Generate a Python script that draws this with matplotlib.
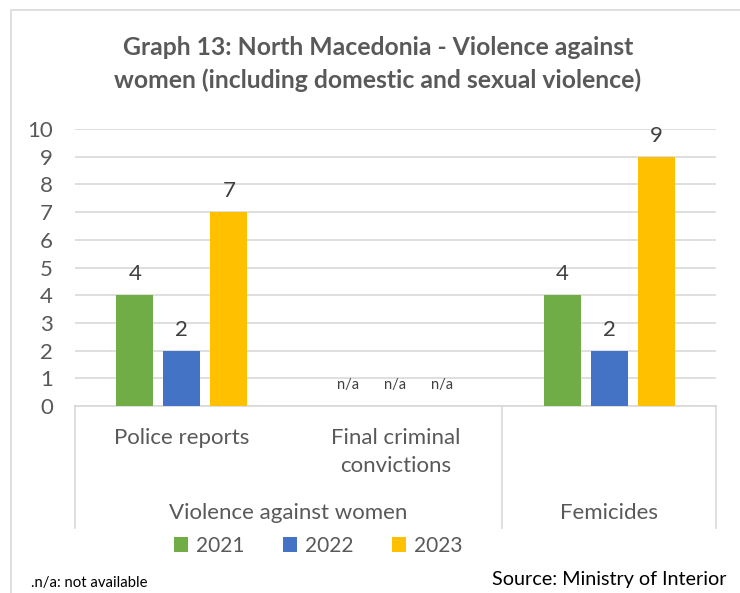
import matplotlib.pyplot as plt
import matplotlib.patches as mpatches
import numpy as np

plt.rcParams['font.family'] = ['Lato', 'DejaVu Sans']

categorias = ['Police reports', 'Final criminal\nconvictions', 'Femicides']
grupos = ['Violence against women', 'Femicides']
anios = ['2021', '2022', '2023']
v2021 = [4, np.nan, 4]
v2022 = [2, np.nan, 2]
v2023 = [7, np.nan, 9]
colores = ['#70AD47', '#4472C4', '#FFC000']

gris = '#595959'
linea = '#D9D9D9'
fs = 16

fig = plt.figure(figsize=(7.4, 5.93), dpi=100)
ax = fig.add_axes([75/740, (593-406)/593, (716-75)/740, (406-129)/593])

# borde del grafico
fig.patches.append(mpatches.Rectangle((11/740, -0.05), 1.0, 1 - 10/593 + 0.05,
                                      transform=fig.transFigure, fill=False,
                                      edgecolor=linea, linewidth=1.2))

x = np.arange(len(categorias))
ancho = 0.173
desp = 0.22

for i, (serie, color, anio) in enumerate(zip([v2021, v2022, v2023], colores, anios)):
    vals = np.array(serie, dtype=float)
    pos = x + (i - 1) * desp
    ax.bar(pos, np.nan_to_num(vals), ancho, color=color, label=anio, zorder=3)
    for p, v in zip(pos, vals):
        if np.isnan(v):
            ax.text(p, 0.5, 'n/a', ha='center', va='bottom', fontsize=10.5, color='#404040')
        else:
            ax.text(p, v + 0.4, f'{int(v)}', ha='center', va='bottom', fontsize=fs, color='#404040')

ax.set_xlim(-0.5, 2.5)
ax.set_ylim(0, 10)
ax.set_yticks(range(0, 11))
ax.tick_params(axis='y', length=0, pad=16, labelsize=fs, labelcolor=gris)
ax.set_xticks([])
ax.grid(axis='y', color=linea, linewidth=1.2, zorder=0)
for s in ['top', 'right', 'left']:
    ax.spines[s].set_visible(False)
ax.spines['bottom'].set_color(linea)
ax.spines['bottom'].set_linewidth(1.2)

# eje x de dos niveles
tr = ax.get_xaxis_transform()
fondo = -(528 - 406) / 277
for xs in [-0.5, 1.5, 2.5]:
    ax.plot([xs, xs], [0, fondo], transform=tr, color=linea, linewidth=1.2, clip_on=False)

ax.text(0, -(438 - 406) / 277, categorias[0], transform=tr, ha='center', va='center',
        fontsize=fs, color=gris)
ax.text(1, -(452 - 406) / 277, categorias[1], transform=tr, ha='center', va='center',
        fontsize=fs, color=gris, linespacing=1.55)
y2 = -(513 - 406) / 277
ax.text(0.5, y2, grupos[0], transform=tr, ha='center', va='center', fontsize=fs, color=gris)
ax.text(2, y2, grupos[1], transform=tr, ha='center', va='center', fontsize=fs, color=gris)

fig.text(378/740, 1 - 64/593,
         'Graph 13: North Macedonia - Violence against\nwomen (including domestic and sexual violence)',
         ha='center', va='center', fontsize=17.8, fontweight='bold', color=gris, linespacing=1.5)

ax.legend(loc='center', bbox_to_anchor=(318/740, 1 - 546/593),
          bbox_transform=fig.transFigure, ncol=3, frameon=False, fontsize=15,
          labelcolor=gris, handlelength=0.7, handleheight=0.7, handletextpad=0.35,
          columnspacing=1.85)

fig.text(31/740, 1 - 583/593, '.n/a: not available', ha='left', va='center', fontsize=10.7, color='black')
fig.text(726/740, 1 - 579/593, 'Source: Ministry of Interior', ha='right', va='center',
         fontsize=14.2, color='black')

fig.savefig('out.png', dpi=100)
